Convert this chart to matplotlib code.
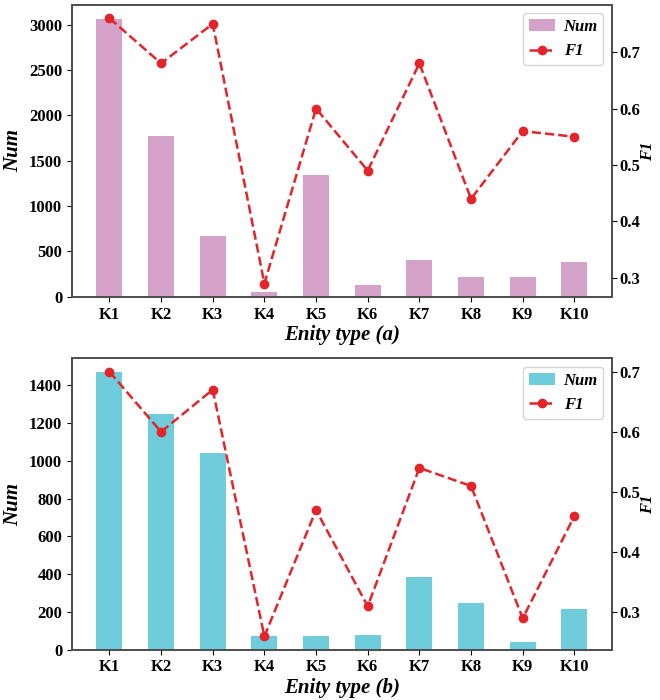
import numpy as np
import matplotlib.pyplot as plt

plt.rcParams['font.family'] = ['Liberation Serif', 'DejaVu Serif']
plt.rcParams['font.weight'] = 'bold'

types = ['K1', 'K2', 'K3', 'K4', 'K5', 'K6', 'K7', 'K8', 'K9', 'K10']

# dataset (a)
num_a = [3065, 1770, 665, 55, 1345, 130, 405, 222, 215, 388]
f1_a = [0.76, 0.68, 0.75, 0.29, 0.60, 0.49, 0.68, 0.44, 0.56, 0.55]

# dataset (b)
num_b = [1470, 1250, 1043, 73, 73, 77, 386, 246, 42, 215]
f1_b = [0.70, 0.60, 0.67, 0.26, 0.47, 0.31, 0.54, 0.51, 0.29, 0.46]

fig = plt.figure(figsize=(6.6, 7), dpi=100)
ax1 = fig.add_axes([0.109, 0.576, 0.818, 0.417])
ax2 = fig.add_axes([0.109, 0.072, 0.818, 0.416])


def draw_panel(ax, num, f1, bar_color, tag):
    x = np.arange(len(types))
    b = ax.bar(x, num, width=0.5, color=bar_color, label='Num')
    ax.set_xticks(x)
    ax.set_xticklabels(types)
    ax.set_ylabel('Num', fontsize=15, fontweight='bold', style='italic')
    ax.set_xlabel('Enity type (%s)' % tag, fontsize=15, fontweight='bold',
                  style='italic', labelpad=2)
    ax.tick_params(labelsize=12)
    axr = ax.twinx()
    l, = axr.plot(x, f1, color='#E3242B', linestyle='--', linewidth=1.8,
                  marker='o', markersize=6, label='F1')
    axr.set_ylabel('F1', fontsize=12, fontweight='bold', style='italic')
    axr.yaxis.set_label_coords(1.052, 0.5)
    axr.tick_params(labelsize=12, pad=2)
    for a in (ax, axr):
        for s in a.spines.values():
            s.set_color('#4d4d4d')
            s.set_linewidth(1.2)
    leg = ax.legend([b, l], ['Num', 'F1'], loc='upper right',
                    prop={'family': 'Liberation Serif', 'style': 'italic',
                          'weight': 'bold', 'size': 12},
                    handlelength=1.6, handletextpad=0.5, borderpad=0.35)
    leg.set_zorder(5)
    return axr


draw_panel(ax1, num_a, f1_a, '#D4A2C9', 'a')
draw_panel(ax2, num_b, f1_b, '#6ECCDB', 'b')

fig.savefig('out.png', dpi=100)
